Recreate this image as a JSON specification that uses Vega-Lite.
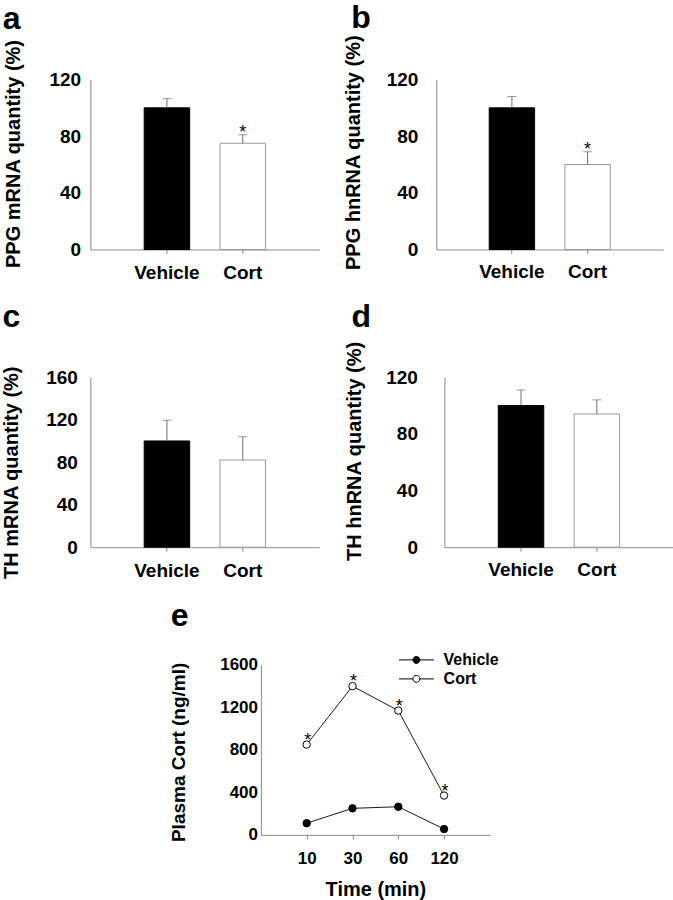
{
  "$schema": "https://vega.github.io/schema/vega-lite/v6.json",
  "background": "white",
  "padding": {"left": 0.9, "top": 1.5, "right": 0, "bottom": 0},
  "autosize": {"type": "pad"},
  "center": true,
  "spacing": 17.4,
  "resolve": {"scale": {"fill": "independent", "stroke": "independent"}, "legend": {"fill": "independent", "stroke": "independent"}},
  "config": {
    "font": "Liberation Sans",
    "view": {"stroke": null},
    "axis": {"grid": false, "domainColor": "#8a8a8a", "tickColor": "#8a8a8a", "labelColor": "#000000", "labelFontWeight": "bold", "labelFontSize": 19, "titleColor": "#000000", "titleFontWeight": "bold", "titleFontSize": 20, "labelFont": "Liberation Sans", "titleFont": "Liberation Sans"},
    "axisX": {"tickSize": 4, "labelAngle": 0},
    "axisY": {"ticks": false, "titleBaseline": "alphabetic"},
    "title": {"fontSize": 32, "fontWeight": "bold", "font": "Liberation Sans", "color": "#000000", "anchor": "start", "baseline": "alphabetic", "frame": "group"}
  },
  "vconcat": [
    {
      "spacing": 16.7,
      "align": "none",
      "vconcat": [
        {
          "spacing": 22.9,
          "align": "none",
          "hconcat": [
            {
              "width": 229, "height": 170,
              "title": {"text": "a", "dx": -87.6, "offset": 2.7},
              "data": {"values": [
                {"group": "Vehicle", "mean": 100, "upper": 106.5, "sig": ""},
                {"group": "Cort", "mean": 75, "upper": 81, "sig": "*"}
              ]},
              "encoding": {"x": {"field": "group", "type": "nominal", "sort": ["Vehicle", "Cort"], "scale": {"paddingInner": 0.4, "paddingOuter": 0.71}, "axis": {"title": null, "labelPadding": 10.3}}},
              "layer": [
                {"mark": {"type": "bar", "strokeWidth": 1}, "encoding": {
                  "y": {"field": "mean", "type": "quantitative", "scale": {"domain": [0, 120]}, "axis": {"values": [0, 40, 80, 120], "title": "PPG mRNA quantity (%)", "titleX": -71.1, "titleY": 74, "labelPadding": 9.7}},
                  "fill": {"field": "group", "type": "nominal", "scale": {"domain": ["Vehicle", "Cort"], "range": ["#000000", "#ffffff"]}, "legend": null},
                  "stroke": {"field": "group", "type": "nominal", "scale": {"domain": ["Vehicle", "Cort"], "range": ["#000000", "#9a9a9a"]}, "legend": null}}},
                {"mark": {"type": "rule", "color": "#6e6e6e"}, "encoding": {"y": {"field": "mean", "type": "quantitative"}, "y2": {"field": "upper"}}},
                {"mark": {"type": "tick", "color": "#6e6e6e", "size": 9, "thickness": 1}, "encoding": {"y": {"field": "upper", "type": "quantitative"}}},
                {"mark": {"type": "text", "fontSize": 18, "baseline": "alphabetic", "dy": 3}, "encoding": {"y": {"field": "upper", "type": "quantitative"}, "text": {"field": "sig"}}}
              ]
            },
            {
              "width": 227, "height": 170,
              "title": {"text": "b", "dx": -85, "offset": -0.6},
              "data": {"values": [
                {"group": "Vehicle", "mean": 100, "upper": 108, "sig": ""},
                {"group": "Cort", "mean": 60, "upper": 69, "sig": "*"}
              ]},
              "encoding": {"x": {"field": "group", "type": "nominal", "sort": ["Vehicle", "Cort"], "scale": {"paddingInner": 0.4, "paddingOuter": 0.7}, "axis": {"title": null, "labelPadding": 8.6}}},
              "layer": [
                {"mark": {"type": "bar", "strokeWidth": 1}, "encoding": {
                  "y": {"field": "mean", "type": "quantitative", "scale": {"domain": [0, 120]}, "axis": {"values": [0, 40, 80, 120], "title": "PPG hnRNA quantity (%)", "titleX": -77.2, "titleY": 72.7, "labelPadding": 18.4}},
                  "fill": {"field": "group", "type": "nominal", "scale": {"domain": ["Vehicle", "Cort"], "range": ["#000000", "#ffffff"]}, "legend": null},
                  "stroke": {"field": "group", "type": "nominal", "scale": {"domain": ["Vehicle", "Cort"], "range": ["#000000", "#9a9a9a"]}, "legend": null}}},
                {"mark": {"type": "rule", "color": "#6e6e6e"}, "encoding": {"y": {"field": "mean", "type": "quantitative"}, "y2": {"field": "upper"}}},
                {"mark": {"type": "tick", "color": "#6e6e6e", "size": 9, "thickness": 1}, "encoding": {"y": {"field": "upper", "type": "quantitative"}}},
                {"mark": {"type": "text", "fontSize": 18, "baseline": "alphabetic", "dy": 3}, "encoding": {"y": {"field": "upper", "type": "quantitative"}, "text": {"field": "sig"}}}
              ]
            }
          ]
        },
        {
          "spacing": 25.1,
          "align": "none",
          "hconcat": [
            {
              "width": 229, "height": 170,
              "title": {"text": "c", "dx": -87.9, "offset": 31.3},
              "data": {"values": [
                {"group": "Vehicle", "mean": 100, "upper": 119.5},
                {"group": "Cort", "mean": 82, "upper": 104}
              ]},
              "encoding": {"x": {"field": "group", "type": "nominal", "sort": ["Vehicle", "Cort"], "scale": {"paddingInner": 0.4, "paddingOuter": 0.71}, "axis": {"title": null, "labelPadding": 10.4}}},
              "layer": [
                {"mark": {"type": "bar", "strokeWidth": 1}, "encoding": {
                  "y": {"field": "mean", "type": "quantitative", "scale": {"domain": [0, 160]}, "axis": {"values": [0, 40, 80, 120, 160], "title": "TH mRNA quantity (%)", "titleX": -72.6, "titleY": 95, "labelPadding": 13}},
                  "fill": {"field": "group", "type": "nominal", "scale": {"domain": ["Vehicle", "Cort"], "range": ["#000000", "#ffffff"]}, "legend": null},
                  "stroke": {"field": "group", "type": "nominal", "scale": {"domain": ["Vehicle", "Cort"], "range": ["#000000", "#9a9a9a"]}, "legend": null}}},
                {"mark": {"type": "rule", "color": "#6e6e6e"}, "encoding": {"y": {"field": "mean", "type": "quantitative"}, "y2": {"field": "upper"}}},
                {"mark": {"type": "tick", "color": "#6e6e6e", "size": 9, "thickness": 1}, "encoding": {"y": {"field": "upper", "type": "quantitative"}}}
              ]
            },
            {
              "width": 229, "height": 170,
              "title": {"text": "d", "dx": -93, "offset": 7.4},
              "data": {"values": [
                {"group": "Vehicle", "mean": 100, "upper": 111},
                {"group": "Cort", "mean": 94, "upper": 104}
              ]},
              "encoding": {"x": {"field": "group", "type": "nominal", "sort": ["Vehicle", "Cort"], "scale": {"paddingInner": 0.4, "paddingOuter": 0.71}, "axis": {"title": null, "labelPadding": 9.7}}},
              "layer": [
                {"mark": {"type": "bar", "strokeWidth": 1}, "encoding": {
                  "y": {"field": "mean", "type": "quantitative", "scale": {"domain": [0, 120]}, "axis": {"values": [0, 40, 80, 120], "title": "TH hnRNA quantity (%)", "titleX": -83.5, "titleY": 73.7, "labelPadding": 27}},
                  "fill": {"field": "group", "type": "nominal", "scale": {"domain": ["Vehicle", "Cort"], "range": ["#000000", "#ffffff"]}, "legend": null},
                  "stroke": {"field": "group", "type": "nominal", "scale": {"domain": ["Vehicle", "Cort"], "range": ["#000000", "#9a9a9a"]}, "legend": null}}},
                {"mark": {"type": "rule", "color": "#6e6e6e"}, "encoding": {"y": {"field": "mean", "type": "quantitative"}, "y2": {"field": "upper"}}},
                {"mark": {"type": "tick", "color": "#6e6e6e", "size": 9, "thickness": 1}, "encoding": {"y": {"field": "upper", "type": "quantitative"}}}
              ]
            }
          ]
        }
      ]
    },
    {
      "width": 229, "height": 170,
      "title": {"text": "e", "dx": -90.2, "offset": 12.6},
      "data": {"values": [
        {"time": 10, "group": "Vehicle", "value": 110, "sig": ""},
        {"time": 30, "group": "Vehicle", "value": 250, "sig": ""},
        {"time": 60, "group": "Vehicle", "value": 265, "sig": ""},
        {"time": 120, "group": "Vehicle", "value": 55, "sig": ""},
        {"time": 10, "group": "Cort", "value": 850, "sig": "*"},
        {"time": 30, "group": "Cort", "value": 1400, "sig": "*"},
        {"time": 60, "group": "Cort", "value": 1170, "sig": "*"},
        {"time": 120, "group": "Cort", "value": 370, "sig": "*"}
      ]},
      "encoding": {
        "x": {"field": "time", "type": "ordinal", "sort": [10, 30, 60, 120], "scale": {"type": "point", "padding": 1.03}, "axis": {"title": "Time (min)", "labelFontSize": 17, "labelPadding": 11.4, "titleFontSize": 20, "titleBaseline": "alphabetic", "titleY": 60.5}},
        "y": {"field": "value", "type": "quantitative", "scale": {"domain": [0, 1600]}, "axis": {"values": [0, 400, 800, 1200, 1600], "format": "d", "title": "Plasma Cort (ng/ml)", "labelFontSize": 17, "labelPadding": 3.4, "titleFontSize": 19, "titleX": -76.4, "titleY": 87}}
      },
      "layer": [
        {"mark": {"type": "line", "color": "#1a1a1a", "strokeWidth": 1}, "encoding": {"detail": {"field": "group", "type": "nominal"}}},
        {"mark": {"type": "point", "filled": true, "size": 55, "stroke": "#000000", "strokeWidth": 1, "opacity": 1}, "encoding": {
          "fill": {"field": "group", "type": "nominal", "scale": {"domain": ["Vehicle", "Cort"], "range": ["#000000", "#ffffff"]},
            "legend": {"title": null, "orient": "none", "legendX": 141, "legendY": -19.5, "padding": 3.5, "rowPadding": 0,
              "symbolType": "M-1.667,0H-0.333M0.333,0H1.667M-0.333,0A0.333,0.333,0,1,0,0.333,0A0.333,0.333,0,1,0,-0.333,0Z",
              "symbolSize": 441, "symbolStrokeColor": "#000000", "symbolStrokeWidth": 1, "labelFontSize": 16, "labelFontWeight": "bold", "labelColor": "#000000", "labelOffset": 16.2,
              "labelExpr": "datum.label == 'Cort' ? '\u00a0Cort' : datum.label"}}}},
        {"transform": [{"filter": "datum.sig == '*'"}], "mark": {"type": "text", "fontSize": 18, "baseline": "alphabetic", "dy": 1, "dx": 1}, "encoding": {"text": {"field": "sig"}}}
      ]
    }
  ]
}
